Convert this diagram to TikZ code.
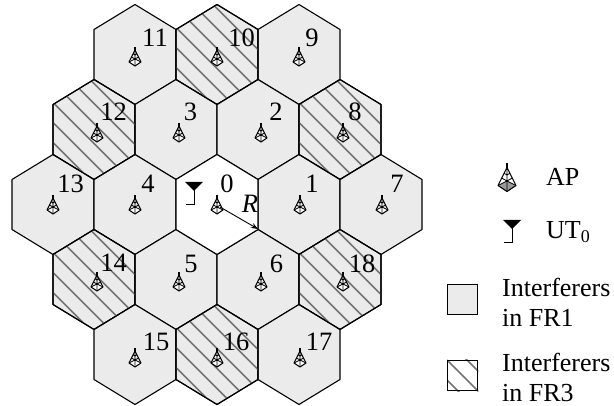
\documentclass[tikz,border=0pt]{standalone}
\usepackage{fontspec}
\setmainfont{Liberation Serif}
\usetikzlibrary{arrows.meta,calc}

\tikzset{
    >=Stealth,
    cell/.style={draw, line width=1.1pt, fill=black!8, line join=round},
    stripe/.style={line width=1.6pt, draw=black!55},
    num/.style={inner sep=0pt, font=\fontsize{26.5}{30}\selectfont},
    legtext/.style={inner sep=0pt, align=left, anchor=west, font=\fontsize{26}{30}\selectfont},
    legbox/.style={draw, line width=1.3pt, minimum size=30pt, inner sep=0pt, anchor=north west},
    pics/hexcell/.style={code={
        \draw[cell, fill=#1] (0,-50) -- (41,-25) -- (41,25) -- (0,50) -- (-41,25) -- (-41,-25) -- cycle;
    }},
    pics/hexhatch/.style={code={
        \begin{scope}
          \clip (0,-50) -- (41,-25) -- (41,25) -- (0,50) -- (-41,25) -- (-41,-25) -- cycle;
          \foreach \k in {-5,...,4}
            \draw[stripe] (-60,{-60+14+20*\k}) -- (60,{60+14+20*\k});
        \end{scope}
        \draw[cell, fill=none] (0,-50) -- (41,-25) -- (41,25) -- (0,50) -- (-41,25) -- (-41,-25) -- cycle;
    }},
    pics/apicon/.style={code={
        \fill[black!#1] (-6,5) -- (0,9) -- (6,5) -- (0,2) -- cycle;
        \draw[line width=1pt, line join=round] (0,-7) -- (-6,5) -- (0,9) -- (6,5) -- cycle;
        \draw[line width=0.8pt] (0,-7) -- (0,9)
             (-3.6,0) -- (0,2) -- (3.6,0)
             (-2,-3.2) -- (0,-2) -- (2,-3.2)
             (-6,5) -- (0,2) -- (6,5);
        \draw[line width=1.5pt] (0,-10) -- (0,-5);
    }},
    pics/uticon/.style={code={
        \fill (-9,0) -- (9,0) -- (0,9) -- cycle;
        \draw[line width=1pt] (0,5) -- (0,23) -- (-8,23);
    }},
}

\begin{document}
\begin{tikzpicture}[x=1pt, y=-1pt]
\useasboundingbox (0,0) rectangle (614,406);

% === Cells ===
\foreach \cx/\cy in {135/54.5, 217/54.5, 299/54.5,
                     94/129.5, 176/129.5, 258/129.5, 340/129.5,
                     53/204.5, 135/204.5, 299/204.5, 381/204.5,
                     94/279.5, 176/279.5, 258/279.5, 340/279.5,
                     135/354.5, 217/354.5, 299/354.5}
  \pic at (\cx,\cy) {hexcell=black!8};
\pic at (217,204.5) {hexcell=white};

% === Hatched cells ===
\foreach \cx/\cy in {217/54.5, 94/129.5, 340/129.5, 94/279.5, 340/279.5, 217/354.5}
  \pic at (\cx,\cy) {hexhatch};

% === Access points ===
\foreach \cx/\cy in {135/57, 217/57, 299/57,
                     97/133, 179/133, 261/133, 343/133,
                     53/205, 135/205, 217/205, 300/205, 382/205,
                     97/282, 179/282, 261/282, 343/282,
                     135/358, 217/358, 300/358}
  \pic at (\cx,\cy) {apicon=0};

% === Cell numbers ===
\foreach \id/\lx/\ly in {11/155/38, 10/241.5/38, 9/312/38,
                         12/113.5/112, 3/190.5/112, 2/276/112, 8/355/112,
                         13/70.5/184, 4/148/184, 0/227/184, 1/312/184, 7/397/184,
                         14/113.5/263, 5/191/264, 6/276.5/264, 18/362/264,
                         15/156/342, 16/236/342, 17/319/342}
  \node[num] (n\id) at (\lx,\ly) {\id};

% === UT and radius ===
\pic at (194,182) {uticon};
\coordinate (centre) at (220,207);
\coordinate (vertex) at (258,229);
\draw[->, line width=0.9pt] (centre) -- (vertex);
\node[num] (rlabel) at (250,204) {\textit{R}};

% === Legend ===
\pic[scale=1.5] at (507,178) {apicon=40};
\pic at (512,220) {uticon};
\node[legtext] (aptext) at (546,177) {AP};
\node[legtext] (uttext) at (546,232) {UT\raisebox{-4pt}{\fontsize{18}{18}\selectfont 0}};
\node[legbox, fill=black!8] (boxone) at (447,284) {};
\node[legtext] (fronetext) at (502,302) {Interferers\\in FR1};
\node[legbox] (boxtwo) at (447,360) {};
\begin{scope}
  \clip (boxtwo.north west) rectangle (boxtwo.south east);
  \foreach \k in {-1,0,1}
    \draw[stripe] ($(boxtwo.north west)+(0,{20*\k})$) -- ++(32,32);
\end{scope}
\node[legbox] at (447,360) {};
\node[legtext] (frthreetext) at (502,377) {Interferers\\in FR3};

\end{tikzpicture}
\end{document}
